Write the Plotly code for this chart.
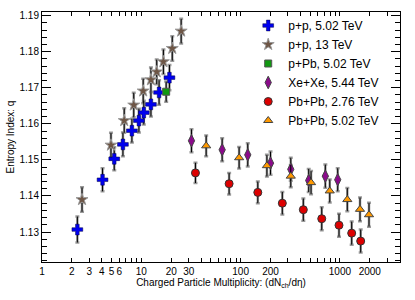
import plotly.graph_objects as go

# ---- data ----
pp502_x = [2.27, 4.07, 5.34, 6.53, 8.04, 9.46, 10.6, 12.5, 15.1, 19.2]
pp502_q = [1.1307, 1.1445, 1.1503, 1.1543, 1.1581, 1.1609, 1.1631, 1.1654, 1.1687, 1.1728]
pp502_e = [0.0036, 0.0032, 0.0032, 0.0033, 0.0033, 0.0033, 0.0033, 0.0034, 0.0034, 0.0035]

pp13_x = [2.53, 4.95, 6.73, 8.39, 10.45, 12.5, 14.3, 16.7, 20.5, 25.2]
pp13_q = [1.1390, 1.1541, 1.1609, 1.1652, 1.1691, 1.1722, 1.1744, 1.1772, 1.1809, 1.1857]
pp13_e = [0.0034, 0.0034, 0.0034, 0.0034, 0.0034, 0.0034, 0.0034, 0.0034, 0.0034, 0.0034]

ppb_x = [17.8]
ppb_q = [1.1689]
ppb_e = [0.0028]

xexe_x = [32.0, 65.2, 118, 200, 320, 485, 713, 950]
xexe_q = [1.1553, 1.1528, 1.1514, 1.1491, 1.1474, 1.1443, 1.1455, 1.1445]
xexe_e = [0.0032, 0.0032, 0.0032, 0.0032, 0.0032, 0.0032, 0.0032, 0.0032]

pb276_x = [35.1, 76.6, 149, 263, 428, 656, 979, 1314, 1619]
pb276_q = [1.1464, 1.1434, 1.1410, 1.1380, 1.1362, 1.1337, 1.1319, 1.1297, 1.1275]
pb276_e = [0.0028, 0.0030, 0.0030, 0.0031, 0.0031, 0.0032, 0.0032, 0.0032, 0.0032]

pb502_x = [45.0, 96.6, 184, 320, 512, 790, 1187, 1593, 1963]
pb502_q = [1.1539, 1.1506, 1.1484, 1.1455, 1.1437, 1.1414, 1.1390, 1.1363, 1.1348]
pb502_e = [0.0029, 0.0030, 0.0030, 0.0031, 0.0032, 0.0032, 0.0032, 0.0033, 0.0033]

x_tick_vals = [m * 10 ** k for k in range(4) for m in range(1, 10) if m * 10 ** k <= 4000]
x_labels = {1: "1", 2: "2", 3: "3", 4: "4", 5: "5", 6: "6", 10: "10", 20: "20", 30: "30",
            100: "100", 200: "200", 1000: "1000", 2000: "2000"}
x_tick_text = [x_labels.get(v, "") for v in x_tick_vals]
x_decades = [1, 10, 100, 1000]

series = [
    ("p+p, 5.02 TeV", pp502_x, pp502_q, pp502_e,
     dict(symbol="cross", size=9, color="#0000ee", line=dict(color="#000044", width=0.5))),
    ("p+p, 13 TeV", pp13_x, pp13_q, pp13_e,
     dict(symbol="star", size=9, color="#6e5646", line=dict(color="#999999", width=1))),
    ("p+Pb, 5.02 TeV", ppb_x, ppb_q, ppb_e,
     dict(symbol="square", size=7, color="#119911", line=dict(color="#555555", width=1))),
    ("Xe+Xe, 5.44 TeV", xexe_x, xexe_q, xexe_e,
     dict(symbol="diamond-tall", size=9, color="#8b0a8b", line=dict(color="#444444", width=1))),
    ("Pb+Pb, 2.76 TeV", pb276_x, pb276_q, pb276_e,
     dict(symbol="circle", size=8, color="#dd0000", line=dict(color="#333333", width=1))),
    ("Pb+Pb, 5.02 TeV", pb502_x, pb502_q, pb502_e,
     dict(symbol="triangle-up", size=8, color="#ff9900", line=dict(color="#444444", width=1))),
]

fig = go.Figure()
for name, xs, qs, es, mk in series:
    fig.add_trace(go.Scatter(
        x=xs, y=qs, mode="markers", showlegend=False, hoverinfo="skip",
        marker=dict(size=1, opacity=0),
        error_y=dict(type="data", array=es, color="#9a9a9a", thickness=2.5, width=2),
    ))
for name, xs, qs, es, mk in series:
    fig.add_trace(go.Scatter(
        x=xs, y=qs, mode="markers", name=name, marker=mk,
        error_y=dict(type="data", array=es, color="#000000", thickness=1, width=0),
    ))

font = "Liberation Sans, Arial, Helvetica, sans-serif"
fig.update_layout(
    width=415, height=300,
    margin=dict(l=42, r=15, t=12, b=38, autoexpand=False),
    paper_bgcolor="white", plot_bgcolor="white",
    font=dict(family=font, size=10, color="black"),
    xaxis=dict(
        type="log", range=[0, 3.605], automargin=False,
        tickmode="array", tickvals=x_tick_vals, ticktext=x_tick_text, tickangle=0,
        ticks="inside", ticklen=4, tickwidth=1, tickcolor="black",
        showline=True, linecolor="black", linewidth=1, mirror="ticks",
        showgrid=False, zeroline=False,
        tickfont=dict(size=10),
        title=dict(text="Charged Particle Multiplicity: (dN<sub>ch</sub>/dη)",
                   font=dict(size=10), standoff=2),
    ),
    xaxis2=dict(
        type="log", range=[0, 3.605], overlaying="x", anchor="y", side="bottom",
        automargin=False,
        tickmode="array", tickvals=x_decades, showticklabels=False,
        ticks="inside", ticklen=8, tickwidth=1, tickcolor="black",
        showline=False, mirror="ticks", showgrid=False, zeroline=False,
    ),
    yaxis=dict(
        range=[1.1217, 1.191], dtick=0.01, tick0=1.13, tickformat=".2f",
        automargin=False,
        ticks="inside", ticklen=9, tickwidth=1, tickcolor="black",
        minor=dict(dtick=0.002, ticks="inside", ticklen=5, tickcolor="black"),
        showline=True, linecolor="black", linewidth=1, mirror="ticks",
        showgrid=False, zeroline=False,
        tickfont=dict(size=10),
        title=dict(text="Entropy Index: q", font=dict(size=10), standoff=3),
    ),
    legend=dict(
        x=0.576, y=1.004, xanchor="left", yanchor="top",
        bgcolor="rgba(0,0,0,0)", borderwidth=0,
        font=dict(size=12, family=font, color="black"),
    ),
)

fig.write_html("out.html", config={"displayModeBar": False},
               post_script="document.body.style.margin='0px';")
